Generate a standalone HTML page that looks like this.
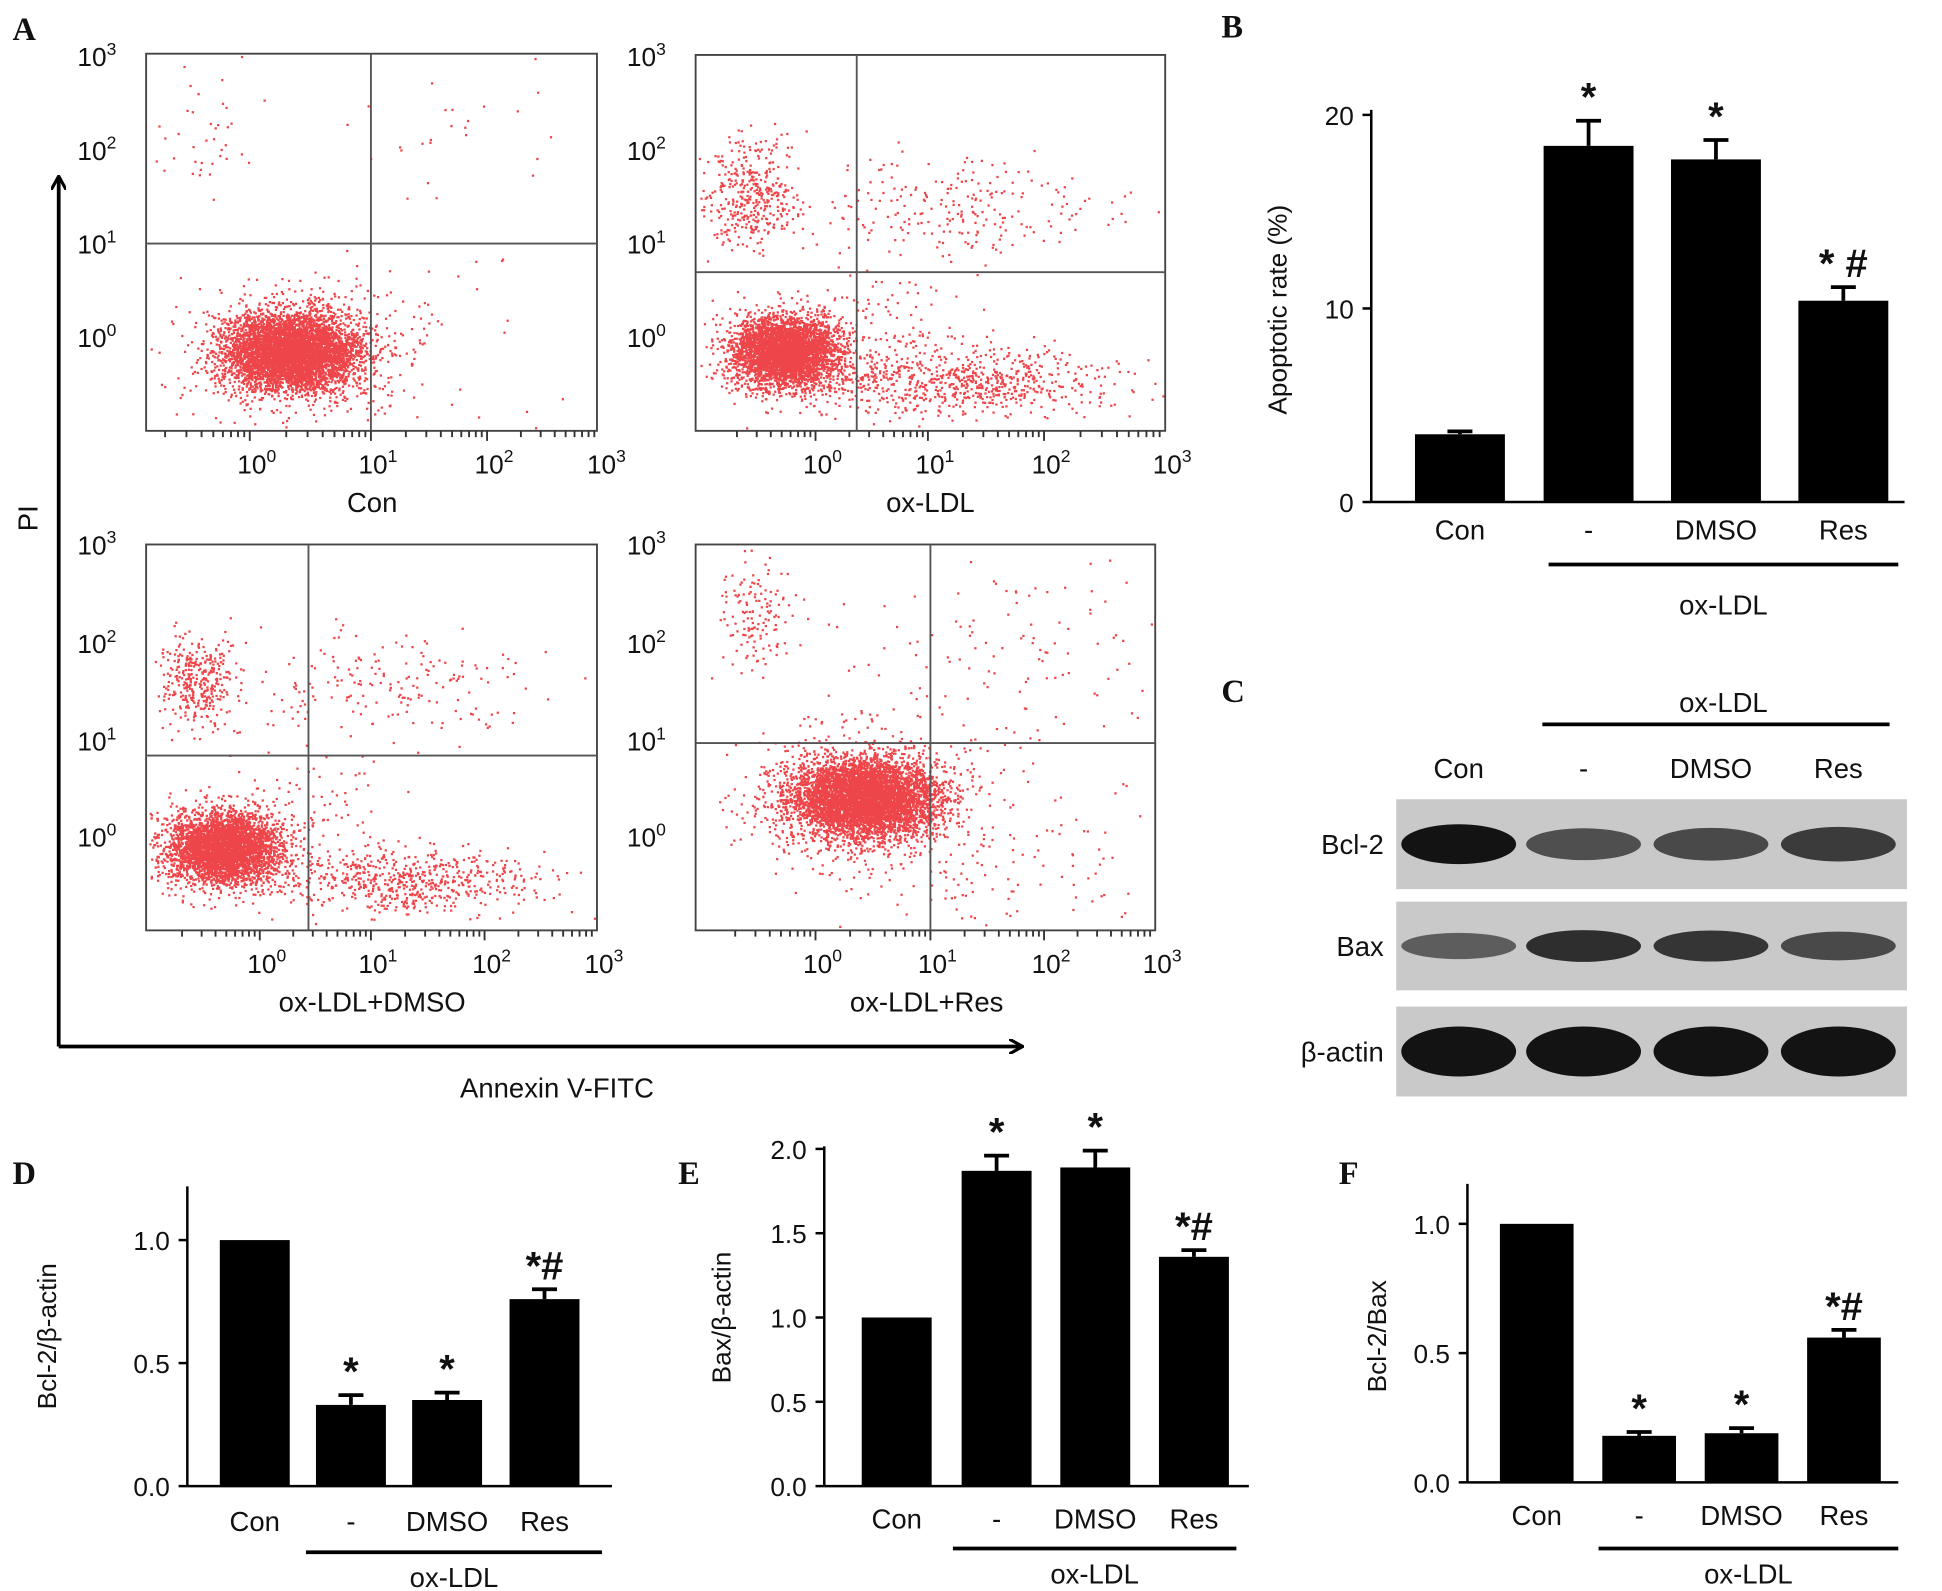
<!DOCTYPE html>
<html><head><meta charset="utf-8"><style>
html,body{margin:0;padding:0;background:#fff}
svg{display:block}
text{font-family:"Liberation Sans",sans-serif;fill:#111}
.L{font-family:"Liberation Serif",serif;font-weight:bold;font-size:26px}
</style></head><body>
<svg id="fig" width="1942" height="1591" viewBox="0 0 1555 1274" preserveAspectRatio="none" xmlns="http://www.w3.org/2000/svg">
<defs><marker id="ar" markerWidth="12" markerHeight="12" refX="10" refY="6" orient="auto" markerUnits="userSpaceOnUse"><path d="M0,0 L11,6 L0,12" fill="none" stroke="#000" stroke-width="2.5"/></marker></defs>
<g id="flow"></g>
<g id="bars"></g>
<g id="blot"></g>
</svg>
<script>
// ---- bar chart data ----
const groups = ["Con","-","DMSO","Res"];
const apoptoticValues = [3.5,18.4,17.7,10.4];
const apoptoticErrors = [0.15,1.3,1.0,0.7];
const apoptoticStars = ["","*","*","* #"];
const apoptoticTicks = [0,10,20];
const bcl2Values = [1.0,0.33,0.35,0.76];
const bcl2Errors = [0,0.04,0.03,0.04];
const bcl2Stars = ["","*","*","*#"];
const bcl2Ticks = [0.0,0.5,1.0];
const baxValues = [1.0,1.87,1.89,1.36];
const baxErrors = [0,0.09,0.1,0.04];
const baxStars = ["","*","*","*#"];
const baxTicks = [0.0,0.5,1.0,1.5,2.0];
const ratioValues = [1.0,0.18,0.19,0.56];
const ratioErrors = [0,0.015,0.02,0.03];
const ratioStars = ["","*","*","*#"];
const ratioTicks = [0.0,0.5,1.0];
// blot band intensities (0-1)
const bcl2Bands = [1.0,0.55,0.6,0.7];
const baxBands = [0.45,0.8,0.75,0.6];
const actinBands = [1,1,1,1];

const NS="http://www.w3.org/2000/svg";
function mk(p,t,a,txt){const e=document.createElementNS(NS,t);for(const k in a)e.setAttribute(k,a[k]);if(txt!==undefined)e.textContent=txt;p.appendChild(e);return e;}

// ---- flow plots ----
const flow=document.getElementById('flow');
const plots=[
 {name:"con",x0:117,x1:478,y0:43,y1:345,vx:297,hy:195,xl:[200,297,390,480],yl:[45,120,195,270],lab:"Con",lx:298,ly:410,
  cl:[[233,282,24,14,4500],[233,282,40,24,1200],[160,110,25,30,40],[380,110,60,30,25],[330,280,60,40,60]]},
 {name:"ox-ldl",x0:557,x1:933,y0:44,y1:345,vx:686,hy:218,xl:[653,743,836,933],yl:[45,120,195,270],lab:"ox-LDL",lx:745,ly:410,
  cl:[[628,282,20,13,3200],[630,282,35,22,700],[600,155,18,22,400],[770,165,55,20,220],[770,305,60,13,700],[720,270,40,40,120]]},
 {name:"ox-ldl-dmso",x0:117,x1:478,y0:436,y1:745,vx:247,hy:605,xl:[208,297,388,478],yl:[436,515,593,670],lab:"ox-LDL+DMSO",lx:298,ly:810,
  cl:[[178,680,20,13,3200],[180,680,34,20,700],[158,545,15,18,350],[310,550,55,20,180],[330,705,50,13,600],[240,660,40,40,120]]},
 {name:"ox-ldl-res",x0:557,x1:925,y0:436,y1:745,vx:745,hy:595,xl:[653,745,836,925],yl:[436,515,593,670],lab:"ox-LDL+Res",lx:742,ly:810,
  cl:[[690,640,28,15,4800],[690,640,45,26,1000],[605,495,15,22,140],[800,520,70,40,120],[790,700,70,40,150]]}
];
let seed=12345;function rnd(){seed=(seed*16807)%2147483647;return seed/2147483647;}
function gauss(){return (rnd()+rnd()+rnd()+rnd()-2)/0.577;}
plots.forEach(p=>{
 const g=mk(flow,'g',{});
 
 
 let d="";
 p.cl.forEach(c=>{for(let i=0;i<c[4];i++){const x=c[0]+gauss()*c[2],y=c[1]+gauss()*c[3];if(x>p.x0+2&&x<p.x1-2&&y>p.y0+2&&y<p.y1-2)d+=`M${x.toFixed(1)},${y.toFixed(1)}h1.8`;}});
 mk(g,'path',{d:d,stroke:"#e8161b",'stroke-width':1.8,'stroke-opacity':0.8});
 mk(g,'rect',{x:p.x0,y:p.y0,width:p.x1-p.x0,height:p.y1-p.y0,fill:'none',stroke:'#444','stroke-width':1.5});
 mk(g,'line',{x1:p.vx,x2:p.vx,y1:p.y0,y2:p.y1,stroke:'#555','stroke-width':1.5});
 mk(g,'line',{x1:p.x0,x2:p.x1,y1:p.hy,y2:p.hy,stroke:'#555','stroke-width':1.5});
 let tk="";
 for(let i=0;i<3;i++){const a=p.xl[i],b=p.xl[i+1];for(let k=1;k<=9;k++){const x=a+(b-a)*Math.log10(k);tk+=`M${x},${p.y1}v${k==1?8:5}`;}}
 for(let k=2;k<=9;k++){const x=p.xl[0]-(p.xl[1]-p.xl[0])*(1-Math.log10(k));if(x>p.x0)tk+=`M${x},${p.y1}v5`;}
 mk(g,'path',{d:tk,stroke:'#333','stroke-width':1.5});
 p.xl.forEach((x,i)=>{const t=mk(g,'text',{x:x-10,y:p.y1+34,'font-size':21});t.innerHTML=`10<tspan dy="-9" font-size="14">${i}</tspan>`;});
 p.yl.forEach((y,i)=>{const t=mk(g,'text',{x:p.x0-55,y:y+8,'font-size':21});t.innerHTML=`10<tspan dy="-9" font-size="14">${3-i}</tspan>`;});
 const l=mk(g,'text',{x:p.lx,y:p.ly,'font-size':22,'text-anchor':'middle'},p.lab);
 
 
});
mk(flow,'line',{x1:47,y1:838,x2:47,y2:142,stroke:'#000','stroke-width':3,'marker-end':'url(#ar)'});
mk(flow,'line',{x1:47,y1:838,x2:818,y2:838,stroke:'#000','stroke-width':3,'marker-end':'url(#ar)'});
mk(flow,'text',{x:30,y:415,'font-size':22,'text-anchor':'middle',transform:'rotate(-90 30 415)'},"PI");
mk(flow,'text',{x:446,y:879,'font-size':22,'text-anchor':'middle'},"Annexin V-FITC");
mk(flow,'text',{x:10,y:32,class:'L'},"A");

// ---- bar charts ----
const barsG=document.getElementById('bars');
function chart(o){
 const g=mk(barsG,'g',{});
 
 
 const ys=v=>o.y0-(v/o.vmax)*(o.y0-o.ytop);
 mk(g,'text',{x:o.letX,y:o.letY,class:'L'},o.letter);
 mk(g,'line',{x1:o.ax,x2:o.ax,y1:o.y0,y2:o.axTop,stroke:'#000','stroke-width':2});
 mk(g,'line',{x1:o.ax,x2:o.axR,y1:o.y0,y2:o.y0,stroke:'#000','stroke-width':2});
 o.ticks.forEach(t=>{const y=ys(t);mk(g,'line',{x1:o.ax-7,x2:o.ax,y1:y,y2:y,stroke:'#000','stroke-width':2});
  mk(g,'text',{x:o.ax-14,y:y+8,'font-size':21,'text-anchor':'end'},o.dec?t.toFixed(1):t);});
 mk(g,'text',{x:o.ylx,y:o.ylY,'font-size':21,'text-anchor':'middle',transform:`rotate(-90 ${o.ylx} ${o.ylY})`},o.ylab);
 groups.forEach((gr,i)=>{
  const x=o.bx[i],v=o.vals[i],e=o.errs[i],y=ys(v);
  const b=mk(g,'rect',{x:x,y:y,width:o.bw,height:o.y0-y,fill:'#000'});
  
  
  if(e>0){const ye=ys(v+e),cx=x+o.bw/2;mk(g,'path',{d:`M${cx},${y}V${ye}M${cx-10},${ye}H${cx+10}`,stroke:'#000','stroke-width':3});}
  if(o.stars[i])mk(g,'text',{x:x+o.bw/2,y:ys(v+e)-8,'font-size':32,'font-weight':'bold','text-anchor':'middle'},o.stars[i]);
  mk(g,'text',{x:x+o.bw/2,y:o.labY,'font-size':22,'text-anchor':'middle'},gr);
 });
 mk(g,'line',{x1:o.lx1,x2:o.lx2,y1:o.lineY,y2:o.lineY,stroke:'#000','stroke-width':3});
 mk(g,'text',{x:(o.lx1+o.lx2)/2,y:o.lineY+o.oxOff,'font-size':22,'text-anchor':'middle'},"ox-LDL");
}
chart({name:'chart-apoptotic-rate',short:'b',letter:'B',letX:978,letY:30,ax:1098,axR:1525,axTop:88,y0:402,ytop:92,vmax:20,ticks:apoptoticTicks,dec:false,
 vals:apoptoticValues,errs:apoptoticErrors,stars:apoptoticStars,bx:[1133,1236,1338,1440],bw:72,labY:432,lx1:1240,lx2:1520,lineY:452,oxOff:40,
 ylab:"Apoptotic rate (%)",ylx:1030,ylY:248});
chart({name:'chart-bcl2-actin',short:'d',letter:'D',letX:10,letY:948,ax:150,axR:490,axTop:950,y0:1190,ytop:993,vmax:1,ticks:bcl2Ticks,dec:true,
 vals:bcl2Values,errs:bcl2Errors,stars:bcl2Stars,bx:[176,253,330,408],bw:56,labY:1226,lx1:245,lx2:482,lineY:1243,oxOff:28,
 ylab:"Bcl-2/β-actin",ylx:45,ylY:1070});
chart({name:'chart-bax-actin',short:'e',letter:'E',letX:543,letY:948,ax:660,axR:1000,axTop:918,y0:1190,ytop:920,vmax:2,ticks:baxTicks,dec:true,
 vals:baxValues,errs:baxErrors,stars:baxStars,bx:[690,770,849,928],bw:56,labY:1224,lx1:763,lx2:990,lineY:1240,oxOff:28,
 ylab:"Bax/β-actin",ylx:585,ylY:1055});
chart({name:'chart-bcl2-bax',short:'f',letter:'F',letX:1072,letY:948,ax:1175,axR:1520,axTop:948,y0:1187,ytop:980,vmax:1,ticks:ratioTicks,dec:true,
 vals:ratioValues,errs:ratioErrors,stars:ratioStars,bx:[1201,1283,1365,1447],bw:59,labY:1221,lx1:1280,lx2:1520,lineY:1240,oxOff:28,
 ylab:"Bcl-2/Bax",ylx:1110,ylY:1070});

// ---- western blot ----
const bl=document.getElementById('blot');
mk(bl,'text',{x:978,y:562,class:'L'},"C");
mk(bl,'text',{x:1380,y:570,'font-size':22,'text-anchor':'middle'},"ox-LDL");
mk(bl,'line',{x1:1235,x2:1513,y1:580,y2:580,stroke:'#000','stroke-width':3});
const laneX=[1168,1268,1370,1472];
groups.forEach((gr,i)=>mk(bl,'text',{x:laneX[i],y:623,'font-size':22,'text-anchor':'middle'},gr));
[["Bcl-2",640,712,bcl2Bands,16],["Bax",722,793,baxBands,14],["β-actin",806,878,actinBands,20]].forEach(r=>{
 const g=mk(bl,'g',{});
 
 
 mk(g,'rect',{x:1118,y:r[1],width:409,height:r[2]-r[1],fill:'#c9c9c9'});
 const cy=(r[1]+r[2])/2;
 r[3].forEach((v,i)=>{const c=Math.round(150-140*v);
  mk(g,'ellipse',{cx:laneX[i],cy:cy,rx:46,ry:r[4]*(0.55+0.45*v),fill:`rgb(${c},${c},${c})`,opacity:0.95});});
 mk(g,'text',{x:1108,y:cy+8,'font-size':22,'text-anchor':'end'},r[0]);
});
</script>
</body></html>
